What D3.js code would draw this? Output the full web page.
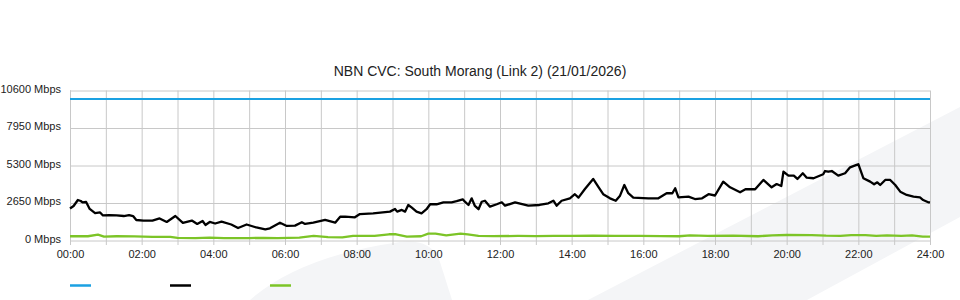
<!DOCTYPE html>
<html>
<head>
<meta charset="utf-8">
<script src="https://cdn.jsdelivr.net/npm/d3@7"></script>
<style>
  body { margin: 0; background: #fff; }
  svg { display: block; font-family: "Liberation Sans", Arial, sans-serif; }
</style>
</head>
<body>
<svg id="chart" width="960" height="300"></svg>
<script>
// values in Mbps, times in hours
var title = "NBN CVC: South Morang (Link 2) (21/01/2026)";
var yTicks = [0, 2650, 5300, 7950, 10600];
var xLabels = ["00:00", "02:00", "04:00", "06:00", "08:00", "10:00", "12:00",
               "14:00", "16:00", "18:00", "20:00", "22:00", "24:00"];

var blueT = [0, 24];
var blueV = [10000, 10000];

var blackT = [0.00, 0.10, 0.22, 0.30, 0.35, 0.45, 0.55, 0.70, 0.84, 0.92, 1.10, 1.30, 1.50, 1.65, 1.76,
    1.85, 2.05, 2.30, 2.50, 2.70, 2.94, 3.15, 3.40, 3.55, 3.70, 3.78, 3.90, 4.05, 4.23, 4.50,
    4.69, 4.93, 5.20, 5.45, 5.58, 5.86, 6.05, 6.28, 6.47, 6.56, 6.79, 7.12, 7.40, 7.54, 7.68,
    7.95, 8.09, 8.46, 8.93, 9.07, 9.13, 9.26, 9.35, 9.44, 9.54, 9.67, 9.81, 9.95, 10.05, 10.23,
    10.42, 10.65, 10.79, 10.96, 11.02, 11.12, 11.21, 11.30, 11.40, 11.49, 11.58, 11.72, 11.91, 12.05, 12.14,
    12.42, 12.79, 13.10, 13.35, 13.49, 13.58, 13.72, 13.95, 14.09, 14.19, 14.37, 14.60, 14.74, 14.88, 15.07,
    15.23, 15.35, 15.47, 15.58, 15.72, 16.14, 16.42, 16.65, 16.81, 16.89, 16.98, 17.26, 17.44, 17.64, 17.82,
    18.00, 18.23, 18.42, 18.70, 18.85, 19.12, 19.35, 19.58, 19.72, 19.85, 19.91, 20.05, 20.20, 20.30, 20.45,
    20.56, 20.75, 21.02, 21.07, 21.16, 21.26, 21.44, 21.63, 21.77, 21.95, 22.00, 22.14, 22.33, 22.44, 22.53,
    22.61, 22.75, 22.89, 23.03, 23.17, 23.35, 23.54, 23.72, 23.81, 23.95, 24.00];
var blackV = [2260, 2440, 2860, 2790, 2690, 2720, 2230, 1940, 1980, 1770, 1800, 1770, 1730, 1800, 1730,
    1450, 1410, 1410, 1560, 1310, 1730, 1240, 1410, 1170, 1380, 1100, 1310, 1200, 1330, 1130,
    880, 1130, 920, 790, 860, 1260, 1030, 1050, 1290, 1170, 1260, 1450, 1260, 1680, 1680,
    1640, 1870, 1920, 2040, 2230, 2040, 2160, 2040, 2510, 2320, 2040, 1920, 2210, 2560, 2560,
    2700, 2700, 2790, 2910, 2740, 2510, 2980, 2440, 2210, 2740, 2810, 2390, 2560, 2700, 2460,
    2700, 2460, 2510, 2630, 2810, 2460, 2810, 2980, 3270, 3030, 3640, 4350, 3800, 3270, 2980,
    2810, 3170, 3920, 3340, 3030, 2980, 2980, 3340, 3340, 3690, 3050, 3100, 2930, 2980, 3270,
    3180, 4160, 3760, 3410, 3620, 3620, 4280, 3760, 3990, 3850, 4860, 4580, 4590, 4350, 4750,
    4440, 4400, 4680, 4910, 4860, 4910, 4580, 4750, 5170, 5340, 5390, 4400, 4160, 3970, 4110,
    3920, 4280, 4280, 3920, 3450, 3220, 3100, 3050, 2860, 2700, 2690];

var greenT = [0, 0.5, 0.78, 0.95, 1.3, 1.8, 2.3, 2.8, 3.0, 3.5, 3.9, 4.3, 5.0, 5.4, 5.8,
    6.4, 6.8, 7.2, 7.6, 7.9, 8.5, 8.9, 9.1, 9.4, 9.8, 10.0, 10.2, 10.5, 10.9, 11.1,
    11.4, 11.8, 12.5, 13.0, 13.5, 14.0, 14.6, 15.2, 15.9, 16.5, 17.0, 17.3, 17.8, 18.5, 19.2,
    19.6, 20.0, 20.7, 21.1, 21.5, 21.8, 22.2, 22.5, 22.8, 23.2, 23.5, 23.8, 24];
var greenV = [300, 300, 420, 280, 300, 290, 260, 250, 180, 170, 200, 170, 170, 190, 170,
    210, 330, 240, 220, 330, 330, 440, 440, 280, 300, 480, 480, 360, 480, 430,
    330, 310, 320, 310, 320, 320, 340, 320, 320, 310, 300, 360, 320, 340, 300,
    360, 390, 380, 340, 330, 380, 380, 330, 360, 330, 360, 280, 280];

var svg = d3.select("#chart");
var grid = "#c8c8c8";

var x = d3.scaleLinear().domain([0, 24]).range([70, 930]);
var y = d3.scaleLinear().domain([0, 10600]).range([240.5, 90.5]);

// faint watermark shapes behind the plot
svg.append("path")
    .attr("d", "M250,300 Q300,256 400,242 Q432,238 440,262 L452,300 Z")
    .attr("fill", "#f4f5f7");
svg.append("path")
    .attr("d", "M588,300 L960,107 L960,217 L807,300 Z")
    .attr("fill", "#f4f5f7");

svg.append("text")
    .attr("x", 480)
    .attr("y", 76)
    .attr("text-anchor", "middle")
    .style("font-size", "14px")
    .attr("fill", "#222")
    .text(title);

// vertical grid, one line per hour, poking 5px below the axis
var gx = svg.append("g")
    .attr("transform", "translate(0,245)")
    .call(d3.axisBottom(x).tickValues(d3.range(0, 25)).tickSize(-154.5).tickFormat(""));
gx.select(".domain").remove();
gx.selectAll("line").attr("stroke", grid);

// horizontal grid + labels
var gy = svg.append("g")
    .attr("transform", "translate(70,0)")
    .call(d3.axisLeft(y).tickValues(yTicks).tickSize(-860).tickPadding(9)
        .tickFormat(d => d + " Mbps"));
gy.select(".domain").remove();
gy.selectAll("line").attr("stroke", grid);
gy.selectAll("text")
    .attr("y", -2)
    .attr("fill", "#222")
    .style("font-family", "Liberation Sans, Arial, sans-serif")
    .style("font-size", "11px");

svg.append("line")
    .attr("x1", 70.5).attr("x2", 70.5)
    .attr("y1", 90.5).attr("y2", 245)
    .attr("stroke", grid);

// x labels
var gl = svg.append("g")
    .attr("transform", "translate(0,247)")
    .call(d3.axisBottom(x).tickValues(d3.range(0, 25, 2)).tickSize(0).tickPadding(3)
        .tickFormat((d, i) => xLabels[i]));
gl.select(".domain").remove();
gl.selectAll("text")
    .attr("fill", "#222")
    .style("font-family", "Liberation Sans, Arial, sans-serif")
    .style("font-size", "11px");

var line = d3.line()
    .x(d => x(d[0]))
    .y(d => y(d[1]));

var series = [
    { t: blueT, v: blueV, color: "#1ba1e2", w: 2 },
    { t: blackT, v: blackV, color: "#000000", w: 2.3 },
    { t: greenT, v: greenV, color: "#7cc427", w: 2.3 }
];

svg.append("g")
    .selectAll("path")
    .data(series)
    .enter().append("path")
    .attr("fill", "none")
    .attr("stroke", d => d.color)
    .attr("stroke-width", d => d.w)
    .attr("stroke-linejoin", "round")
    .attr("d", d => line(d.t.map((t, i) => [t, d.v[i]])));

// legend swatches (no labels in the source)
svg.append("g")
    .selectAll("line")
    .data(series)
    .enter().append("line")
    .attr("x1", (d, i) => 70 + i * 100)
    .attr("x2", (d, i) => 91 + i * 100)
    .attr("y1", 285.5)
    .attr("y2", 285.5)
    .attr("stroke", d => d.color)
    .attr("stroke-width", 2.5);
</script>
</body>
</html>
